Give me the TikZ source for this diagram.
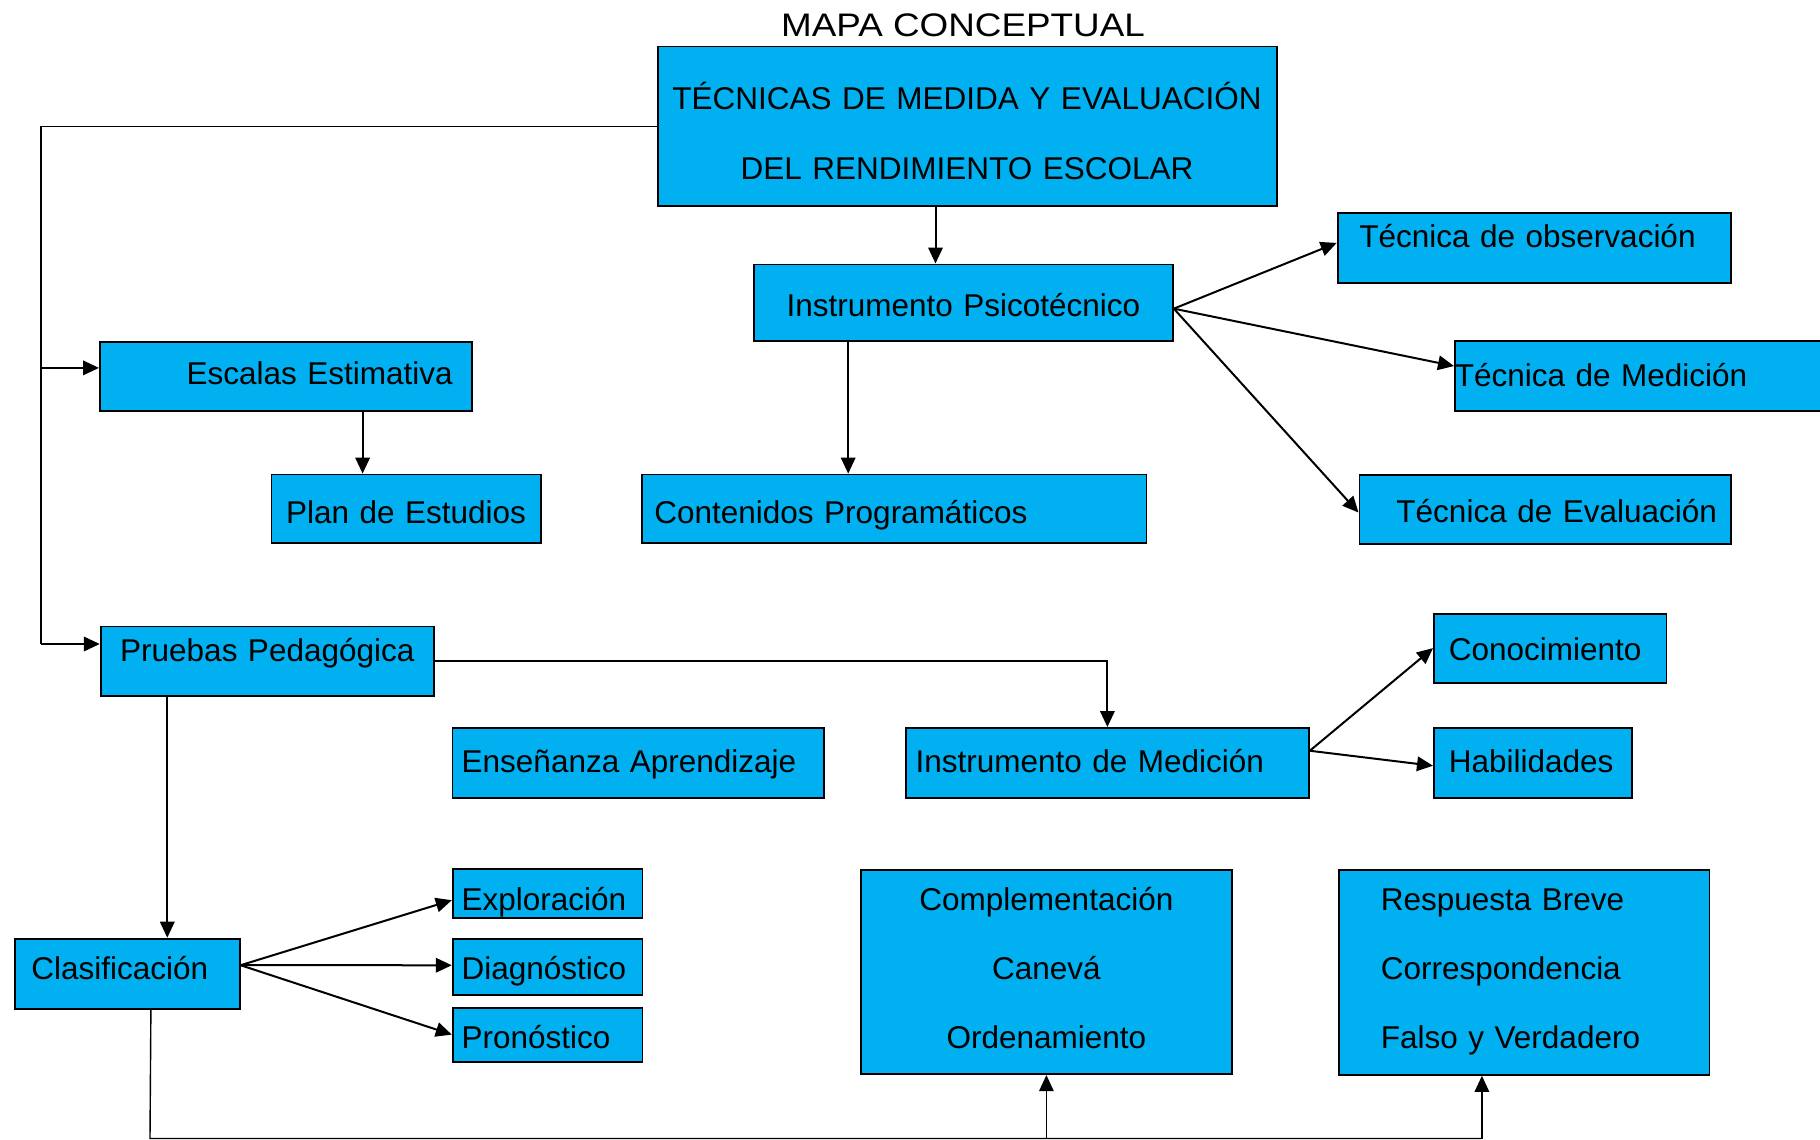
\documentclass[tikz,border=0pt]{standalone}
\usepackage{fontspec}
\setmainfont{Liberation Sans}
\newfontfamily\fuentetitulo{Liberation Sans}[FakeStretch=1.13]
\usepackage{tikz}
\usetikzlibrary{arrows.meta}
\definecolor{celeste}{HTML}{00B0F0}

\begin{document}
\begin{tikzpicture}[x=1pt,y=-1pt]
  \tikzset{caja/.style = {draw, fill=celeste, line width=1.8pt, anchor=north west, inner ysep=0pt, font=\fontsize{31.5}{38}\selectfont}}
  \tikzset{linea/.style = {caja, text height=20pt, text depth=0pt}}
  \tikzset{conector/.style = {-punta, line width=2pt}}
  \tikzset{fino/.style = {line width=1.4pt}}
  \tikzset{%
  punta/.tip={Triangle[length=16pt,width=14.5pt]},
  }
  \useasboundingbox (0,0) rectangle (1820,1140);

  \node[font=\fuentetitulo\fontsize{32.6}{40}\selectfont, anchor=base] (titulo) at (963,36.7) {MAPA CONCEPTUAL};

  \node[caja, text width=609pt, inner xsep=5pt, minimum height=159.3pt, align=center, text height=36pt, font=\fontsize{31.5}{70}\selectfont] (tecnicas) at (656.7,45.7) {TÉCNICAS DE MEDIDA Y EVALUACIÓN\\DEL RENDIMIENTO ESCOLAR};
  \node[linea, text width=399pt, inner xsep=10pt, minimum height=76.5pt, align=center, text height=28pt] (psico) at (753,263.5) {Instrumento Psicotécnico};
  \node[linea, text width=349.7pt, inner xsep=21.8pt, minimum height=69.4pt, align=left, text depth=20pt] (obs) at (1336.7,212.3) {Técnica de observación};
  \node[linea, text width=420pt, inner xsep=0pt, minimum height=69.7pt, align=left] (medicion) at (1454,340.3) {Técnica de Medición};
  \node[linea, text width=343.5pt, inner xsep=14pt, minimum height=69.3pt, align=right, text height=26pt] (evaluacion) at (1358.5,474) {Técnica de Evaluación};
  \node[linea, text width=333.4pt, inner xsep=19.3pt, minimum height=69pt, align=right, text height=17pt] (escalas) at (99,341) {Escalas Estimativa};
  \node[linea, text width=249.2pt, inner xsep=10pt, minimum height=68.4pt, align=center, text height=29pt] (plan) at (270.5,473.6) {Plan de Estudios};
  \node[linea, text width=479.3pt, inner xsep=12.8pt, minimum height=68.4pt, align=left, text height=29pt] (contenidos) at (640.7,473.6) {Contenidos Programáticos};
  \node[linea, text width=313.2pt, inner xsep=10pt, minimum height=69.4pt, align=center, text depth=20pt] (pruebas) at (99.8,625.6) {Pruebas Pedagógica};
  \node[linea, text width=202.6pt, inner xsep=15pt, minimum height=69pt, align=left, text height=25pt] (conocimiento) at (1433,612.7) {Conocimiento};
  \node[linea, text width=352.9pt, inner xsep=9.3pt, minimum height=69.7pt, align=left] (ensenanza) at (451.5,727) {Enseñanza Aprendizaje};
  \node[linea, text width=383.8pt, inner xsep=9.6pt, minimum height=69.7pt, align=left] (instmed) at (905,727) {Instrumento de Medición};
  \node[linea, text width=168pt, inner xsep=15pt, minimum height=69.7pt, align=left] (habilidades) at (1433,727) {Habilidades};
  \node[linea, text width=171.9pt, inner xsep=8.9pt, minimum height=49pt, align=left, text height=34pt] (exploracion) at (451.8,868.3) {Exploración};
  \node[linea, text width=171.9pt, inner xsep=8.9pt, minimum height=56.3pt, align=left, text height=25pt] (diagnostico) at (451.8,937.7) {Diagnóstico};
  \node[linea, text width=171.9pt, inner xsep=8.9pt, minimum height=54pt, align=left, text height=27pt] (pronostico) at (451.8,1006.7) {Pronóstico};
  \node[linea, text width=191.8pt, inner xsep=16.6pt, minimum height=70pt, align=left, text height=11pt] (clasif) at (13.8,937.7) {Clasificación};
  \node[caja, text width=351pt, inner xsep=10pt, minimum height=204.3pt, align=center, text height=16pt, font=\fontsize{31.5}{69}\selectfont] (complem) at (860,869) {Complementación\\Canevá\\Ordenamiento};
  \node[caja, text width=286.6pt, inner xsep=42pt, minimum height=205pt, align=left, font=\fontsize{31.5}{69}\selectfont] (respuesta) at (1338,869) {Respuesta Breve\\Correspondencia\\Falso y Verdadero};

  % tronco izquierdo
  \coordinate (tronco) at (41,644);
  \draw[fino] (tecnicas.west) -| (tronco);
  \coordinate (e1) at ([yshift=8.5pt]escalas.west);
  \draw[conector] (tronco |- e1) -- (e1);
  \draw[conector] (tronco) -- (tronco -| pruebas.west);

  \coordinate (m1) at ([xshift=-31.6pt]tecnicas.south);
  \draw[conector] (m1) -- (m1 |- psico.north);

  \coordinate (p1) at ([yshift=-6pt]psico.east);
  \foreach \to/\dy in {obs/5, medicion/10, evaluacion/-3}
    \draw[conector] (p1) -- ([yshift=\dy]\to.west);

  \coordinate (p2) at ([xshift=-115.2pt]psico.south);
  \draw[conector] (p2) -- (p2 |- contenidos.north);
  \coordinate (e2) at ([xshift=76.7pt]escalas.south);
  \draw[conector] (e2) -- (e2 |- plan.north);
  \draw[conector] (pruebas.east) -| (instmed.north);
  \coordinate (q1) at ([xshift=-100pt]pruebas.south);
  \draw[conector] (q1) -- (q1 |- clasif.north);

  \coordinate (i1) at ([yshift=12pt]instmed.east);
  \coordinate (c1) at ([yshift=8.4pt]clasif.east);
  \foreach \from/\to/\dy in {i1/conocimiento/0, i1/habilidades/-3, c1/exploracion/-6.5, c1/diagnostico/1.5, c1/pronostico/0}
    \draw[conector] (\from) -- ([yshift=\dy]\to.west);

  % linea inferior
  \coordinate (c2) at ([xshift=23.7pt]clasif.south);
  \coordinate (piso) at (150,1138.5);
  \coordinate (r1) at ([xshift=-42.3pt]respuesta.south);
  \draw[fino] (c2) -- (piso) -- (piso -| r1);
  \draw[fino, -punta] (piso -| complem.south) -- (complem.south);
  \draw[fino, -punta] (piso -| r1) -- (r1);
\end{tikzpicture}
\end{document}
